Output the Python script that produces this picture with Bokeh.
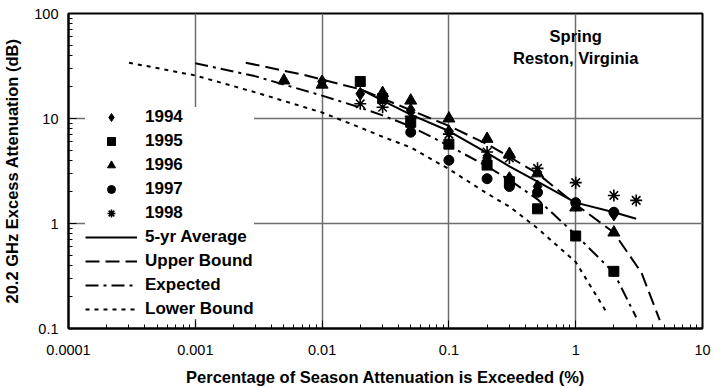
import numpy as np
from bokeh.plotting import figure
from bokeh.models import Legend, LegendItem, Label, FixedTicker, CustomJSTickFormatter
from bokeh.embed import file_html
from bokeh.resources import INLINE

# ---- data ----
x1994 = [0.01, 0.02, 0.03, 0.05, 0.1, 0.2, 0.3, 0.5, 1, 2]
y1994 = [22.5, 17.2, 16.0, 12.0, 7.5, 4.2, 2.7, 2.25, 1.5, 1.22]
x1995 = [0.02, 0.03, 0.05, 0.1, 0.2, 0.3, 0.5, 1, 2]
y1995 = [22.5, 15.5, 9.2, 5.7, 3.6, 2.5, 1.38, 0.76, 0.35]
x1996 = [0.005, 0.01, 0.03, 0.05, 0.1, 0.2, 0.3, 0.5, 1, 2]
y1996 = [23.0, 21.0, 17.5, 14.8, 10.0, 6.4, 4.6, 3.0, 1.42, 0.82]
x1997 = [0.05, 0.1, 0.2, 0.3, 0.5, 1, 2]
y1997 = [7.4, 4.0, 2.67, 2.25, 1.98, 1.58, 1.28]
x1998 = [0.02, 0.03, 0.05, 0.1, 0.2, 0.3, 0.5, 1, 2, 3]
y1998 = [13.8, 12.8, 10.5, 7.1, 4.8, 4.2, 3.35, 2.45, 1.85, 1.66]

x_avg = [0.02, 0.03, 0.05, 0.1, 0.2, 0.3, 0.5, 1, 2, 3]
y_avg = [19.0, 14.8, 10.9, 7.6, 4.7, 3.5, 2.5, 1.58, 1.28, 1.11]
x_upper = [0.0025, 0.0075, 0.01, 0.02, 0.03, 0.05, 0.1, 0.2, 0.3, 0.5, 1, 2, 3.3, 4.6]
y_upper = [34, 25.7, 23.5, 19.0, 15.5, 12.0, 8.5, 5.7, 4.3, 3.0, 1.52, 0.82, 0.34, 0.12]
x_expected = [0.001, 0.003, 0.01, 0.02, 0.03, 0.05, 0.1, 0.2, 0.3, 0.5, 1, 2, 3]
y_expected = [33.6, 25.2, 16.5, 12.7, 10.7, 8.4, 5.5, 3.5, 2.6, 1.7, 0.78, 0.34, 0.128]
x_lower = [0.0003, 0.001, 0.003, 0.01, 0.02, 0.03, 0.05, 0.1, 0.2, 0.3, 0.5, 1, 1.75]
y_lower = [34, 25.7, 17.7, 11.4, 8.2, 6.7, 5.3, 3.3, 1.93, 1.45, 0.9, 0.43, 0.143]

x_ticks = [0.0001, 0.001, 0.01, 0.1, 1, 10]
y_ticks = [0.1, 1, 10, 100]

FONT = "Liberation Sans"

p = figure(width=713, height=388, x_axis_type="log", y_axis_type="log",
           x_range=(0.0001, 10), y_range=(0.1, 100),
           output_backend="svg", toolbar_location=None,
           min_border_left=68, min_border_right=11, min_border_top=13, min_border_bottom=60)
p.background_fill_color = "white"
p.border_fill_color = "white"
p.outline_line_color = "black"
p.outline_line_width = 2

x_minor = [m * 10.0 ** e for e in range(-4, 1) for m in range(2, 10)]
y_minor = [m * 10.0 ** e for e in range(-1, 2) for m in range(2, 10)]
fmt = CustomJSTickFormatter(code="return parseFloat(tick.toPrecision(4)).toString();")

p.xaxis.ticker = FixedTicker(ticks=x_ticks, minor_ticks=x_minor)
p.yaxis.ticker = FixedTicker(ticks=y_ticks, minor_ticks=y_minor)
p.xgrid.ticker = FixedTicker(ticks=x_ticks)
p.ygrid.ticker = FixedTicker(ticks=y_ticks)
for ax in (p.xaxis, p.yaxis):
    ax.formatter = fmt
    ax.axis_line_color = "black"
    ax.axis_line_width = 2
    ax.major_tick_in = 8
    ax.major_tick_out = 0
    ax.minor_tick_in = 4
    ax.minor_tick_out = 0
    ax.major_tick_line_color = "black"
    ax.minor_tick_line_color = "black"
    ax.major_tick_line_width = 1
    ax.minor_tick_line_width = 1
    ax.major_label_text_font = FONT
    ax.major_label_text_font_size = "14.5px"
    ax.major_label_text_color = "black"
    ax.axis_label_text_font = FONT
    ax.axis_label_text_font_size = "16.5px"
    ax.axis_label_text_font_style = "bold"
    ax.axis_label_text_color = "black"

p.xaxis.axis_label = "Percentage of Season Attenuation is Exceeded (%)"
p.yaxis.axis_label = "20.2 GHz Excess Attenuation (dB)"
p.xaxis.major_label_standoff = 16
p.xaxis.axis_label_standoff = 10
p.yaxis.major_label_standoff = 10
p.yaxis.axis_label_standoff = 10

for g in (p.xgrid, p.ygrid):
    g.grid_line_color = "#6e6e6e"
    g.grid_line_width = 1.5

# curves
r_avg = p.line(x_avg, y_avg, line_color="black", line_width=2)
r_up = p.line(x_upper, y_upper, line_color="black", line_width=2, line_dash="14 6")
r_exp = p.line(x_expected, y_expected, line_color="black", line_width=2, line_dash="13 5 3 5")
r_low = p.line(x_lower, y_lower, line_color="black", line_width=2, line_dash="4 5")

# markers
r94 = p.scatter(x1994, y1994, marker="diamond", size=13, fill_color="black", line_color="black")
r95 = p.scatter(x1995, y1995, marker="square", size=10, fill_color="black", line_color="black")
r96 = p.scatter(x1996, y1996, marker="triangle", size=12, fill_color="black", line_color="black")
r97 = p.scatter(x1997, y1997, marker="circle", size=10, fill_color="black", line_color="black")
r98 = p.scatter(x1998, y1998, marker="asterisk", size=12, line_color="black", line_width=1.6)

legend = Legend(items=[
    LegendItem(label="1994", renderers=[r94]),
    LegendItem(label="1995", renderers=[r95]),
    LegendItem(label="1996", renderers=[r96]),
    LegendItem(label="1997", renderers=[r97]),
    LegendItem(label="1998", renderers=[r98]),
    LegendItem(label="5-yr Average", renderers=[r_avg]),
    LegendItem(label="Upper Bound", renderers=[r_up]),
    LegendItem(label="Expected", renderers=[r_exp]),
    LegendItem(label="Lower Bound", renderers=[r_low]),
], location=(17, 9))
legend.margin = 0
legend.padding = 6
legend.spacing = 4
legend.glyph_width = 52
legend.glyph_height = 20
legend.label_height = 20
legend.label_standoff = 8
legend.label_text_font = FONT
legend.label_text_font_size = "17px"
legend.label_text_font_style = "bold"
legend.label_text_color = "black"
legend.border_line_color = None
legend.background_fill_color = "white"
legend.background_fill_alpha = 1.0
p.add_layout(legend, "center")

for txt, yv in (("Spring", 61.6), ("Reston, Virginia", 37.3)):
    p.add_layout(Label(x=1, y=yv, text=txt, text_align="center", text_baseline="middle",
                       text_font=FONT, text_font_size="16.5px", text_font_style="bold",
                       text_color="black"))

open("out.html", "w").write(file_html(p, INLINE))
